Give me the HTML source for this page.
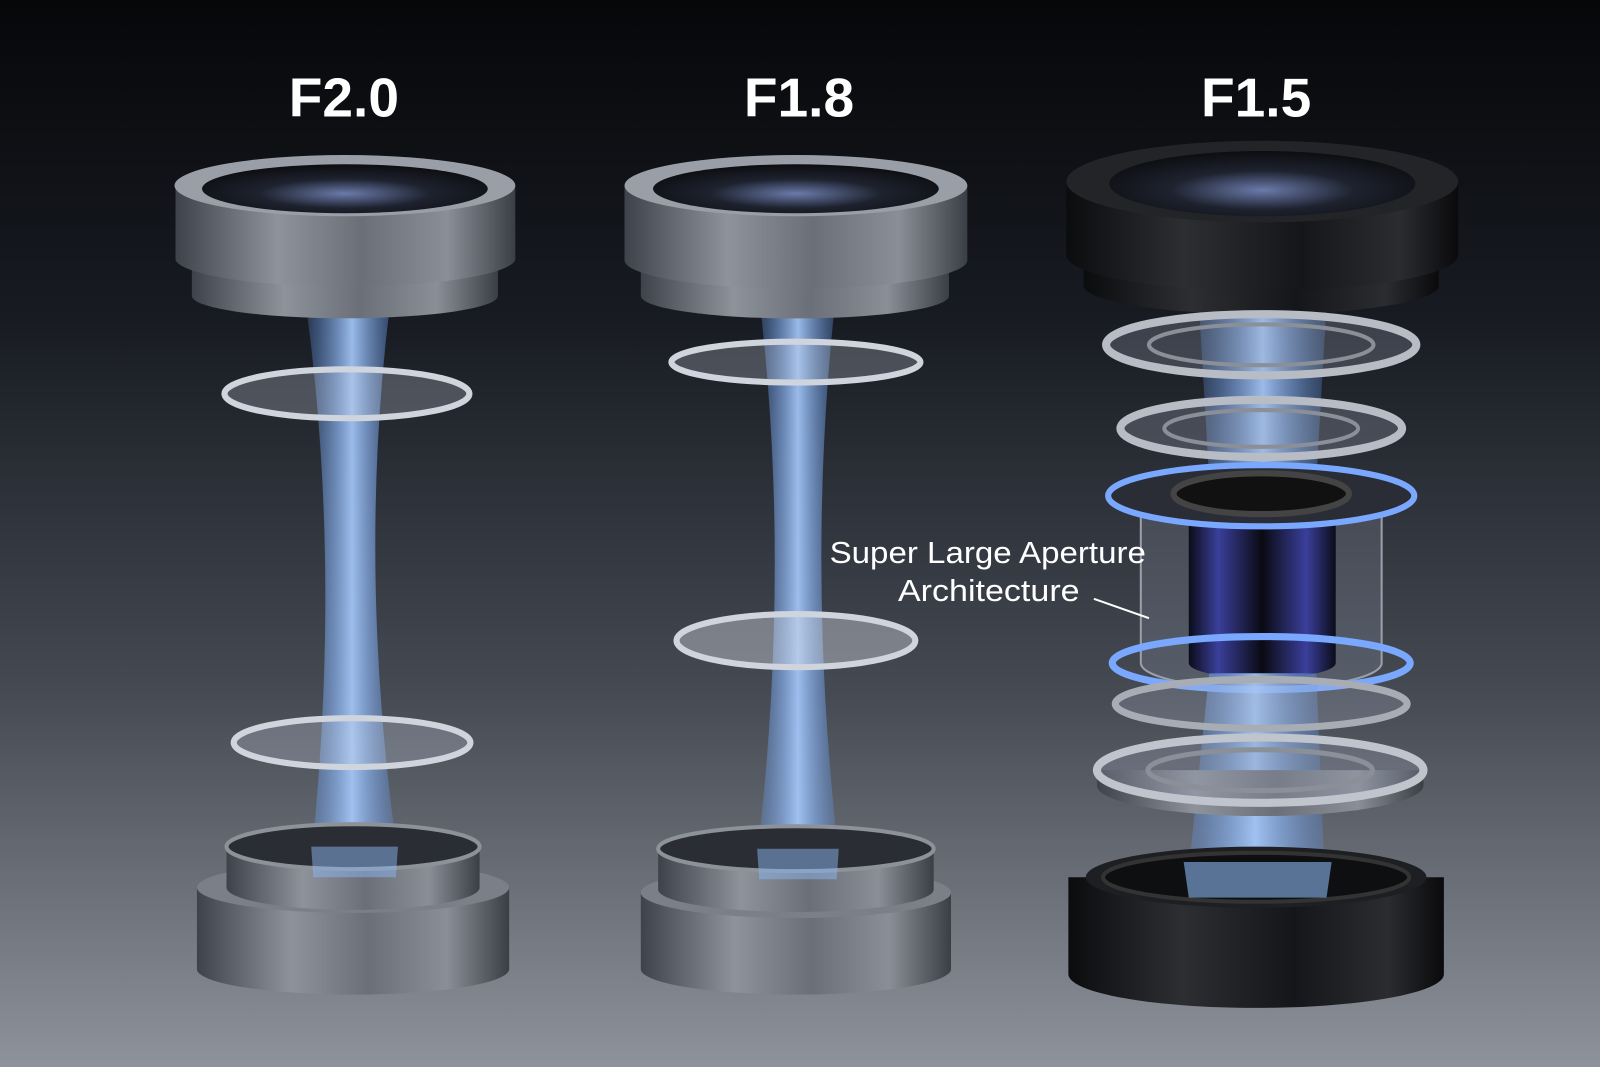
<!DOCTYPE html>
<html><head><meta charset="utf-8"><style>
html,body{margin:0;padding:0;width:1600px;height:1067px;overflow:hidden;background:#111}
svg{display:block}
</style></head><body>
<svg width="1600" height="1067" viewBox="0 0 1568 1046" preserveAspectRatio="none" xmlns="http://www.w3.org/2000/svg">
<defs>
<linearGradient id="bg" x1="0" y1="0" x2="0" y2="1">
<stop offset="0" stop-color="#060709"/><stop offset="0.3" stop-color="#181b22"/><stop offset="0.65" stop-color="#454a53"/><stop offset="1" stop-color="#8e939b"/></linearGradient>
<linearGradient id="metal" x1="0" y1="0" x2="1" y2="0">
<stop offset="0" stop-color="#3e424a"/><stop offset="0.3" stop-color="#8e939b"/><stop offset="0.55" stop-color="#6a6f78"/><stop offset="0.8" stop-color="#8a8f97"/><stop offset="1" stop-color="#3a3e45"/></linearGradient>
<linearGradient id="black" x1="0" y1="0" x2="1" y2="0">
<stop offset="0" stop-color="#0b0c0e"/><stop offset="0.3" stop-color="#2c2e32"/><stop offset="0.6" stop-color="#151619"/><stop offset="0.85" stop-color="#2a2c30"/><stop offset="1" stop-color="#0a0a0c"/></linearGradient>
<radialGradient id="glass" cx="0.5" cy="0.6" r="0.6">
<stop offset="0" stop-color="#6a7aaa"/><stop offset="0.5" stop-color="#1e222e"/><stop offset="1" stop-color="#0c0d10"/></radialGradient>
<linearGradient id="beam" x1="0" y1="0" x2="1" y2="0">
<stop offset="0" stop-color="#5a8ee0" stop-opacity="0.25"/><stop offset="0.5" stop-color="#a8ccff" stop-opacity="0.9"/><stop offset="1" stop-color="#5a8ee0" stop-opacity="0.25"/></linearGradient>
<linearGradient id="tube" x1="0" y1="0" x2="1" y2="0">
<stop offset="0" stop-color="#0b0c18"/><stop offset="0.2" stop-color="#3a3f9a"/><stop offset="0.5" stop-color="#0a0a12"/><stop offset="0.8" stop-color="#3a3f9a"/><stop offset="1" stop-color="#0b0c18"/></linearGradient>
</defs>
<rect width="1568" height="1046" fill="url(#bg)"/>
<g font-family="Liberation Sans, sans-serif" font-weight="bold" font-size="54" fill="#fff" text-anchor="middle">
<text x="337" y="114">F2.0</text><text x="783" y="114">F1.8</text><text x="1231" y="114">F1.5</text></g>

<!-- Lens 1 -->
<path d="M300 300 Q335 560 305 840 L390 840 Q350 560 382 300 Z" fill="url(#beam)"/>
<path d="M188 265 L188 290 A150 22 0 0 0 488 290 L488 265 Z" fill="url(#metal)"/>
<path d="M172 182 L172 255 A167 28 0 0 0 505 255 L505 182 Z" fill="url(#metal)"/>
<ellipse cx="338" cy="182" rx="167" ry="30" fill="#9a9fa7"/>
<ellipse cx="338" cy="185" rx="140" ry="24" fill="url(#glass)"/>
<ellipse cx="340" cy="386" rx="120" ry="24" fill="rgba(210,218,235,0.25)" stroke="#d0d4dc" stroke-width="6"/>
<ellipse cx="345" cy="728" rx="116" ry="24" fill="rgba(210,218,235,0.25)" stroke="#d0d4dc" stroke-width="6"/>
<path d="M193 870 L193 950 A153 25 0 0 0 499 950 L499 870 Z" fill="url(#metal)"/>
<ellipse cx="346" cy="870" rx="153" ry="25" fill="#7a7f88"/>
<path d="M222 830 L222 870 A124 22 0 0 0 470 870 L470 830 Z" fill="url(#metal)"/>
<ellipse cx="346" cy="830" rx="124" ry="22" fill="#2a2d33" stroke="#8d9299" stroke-width="4"/>
<path d="M305 830 L390 830 L388 860 L307 860Z" fill="#8cb6f0" opacity="0.5"/>

<!-- Lens 2 -->
<path d="M745 300 Q775 560 742 840 L822 840 Q790 560 818 300 Z" fill="url(#beam)"/>
<path d="M628 265 L628 290 A150 22 0 0 0 930 290 L930 265 Z" fill="url(#metal)"/>
<path d="M612 182 L612 255 A168 28 0 0 0 948 255 L948 182 Z" fill="url(#metal)"/>
<ellipse cx="780" cy="182" rx="168" ry="30" fill="#9a9fa7"/>
<ellipse cx="780" cy="185" rx="140" ry="24" fill="url(#glass)"/>
<ellipse cx="780" cy="355" rx="122" ry="20" fill="rgba(210,218,235,0.25)" stroke="#d0d4dc" stroke-width="6"/>
<ellipse cx="780" cy="628" rx="117" ry="26" fill="rgba(215,220,230,0.4)" stroke="#d0d4dc" stroke-width="6"/>
<path d="M628 875 L628 950 A152 25 0 0 0 932 950 L932 875 Z" fill="url(#metal)"/>
<ellipse cx="780" cy="875" rx="152" ry="25" fill="#7a7f88"/>
<path d="M645 832 L645 872 A135 22 0 0 0 915 872 L915 832 Z" fill="url(#metal)"/>
<ellipse cx="780" cy="832" rx="135" ry="22" fill="#2a2d33" stroke="#8d9299" stroke-width="4"/>
<path d="M742 832 L822 832 L820 862 L744 862Z" fill="#8cb6f0" opacity="0.5"/>

<!-- Lens 3 -->
<path d="M1175 300 L1300 300 L1290 470 L1185 470 Z" fill="url(#beam)"/>
<path d="M1062 260 L1062 280 A174 28 0 0 0 1410 280 L1410 260 Z" fill="url(#black)"/>
<path d="M1045 178 L1045 250 A192 35 0 0 0 1429 250 L1429 178 Z" fill="url(#black)"/>
<ellipse cx="1237" cy="178" rx="192" ry="40" fill="#222428"/>
<ellipse cx="1237" cy="180" rx="150" ry="32" fill="url(#glass)"/>
<ellipse cx="1236" cy="338" rx="152" ry="30" fill="rgba(170,180,200,0.25)" stroke="#b8bcc4" stroke-width="8"/>
<ellipse cx="1236" cy="338" rx="110" ry="20" fill="none" stroke="#8a8f98" stroke-width="4"/>
<ellipse cx="1236" cy="420" rx="138" ry="28" fill="rgba(170,180,200,0.25)" stroke="#b8bcc4" stroke-width="8"/>
<ellipse cx="1236" cy="420" rx="95" ry="18" fill="none" stroke="#8a8f98" stroke-width="4"/>
<path d="M1118 490 L1118 650 A118 25 0 0 0 1354 650 L1354 490 Z" fill="rgba(180,190,210,0.18)" stroke="#9aa0aa" stroke-width="2"/>
<path d="M1165 500 L1165 650 A72 15 0 0 0 1309 650 L1309 500 Z" fill="url(#tube)"/>
<ellipse cx="1236" cy="486" rx="150" ry="30" fill="#2a2d35" stroke="#7aa8ff" stroke-width="6"/>
<ellipse cx="1236" cy="484" rx="86" ry="20" fill="#111" stroke="#444" stroke-width="6"/>
<ellipse cx="1236" cy="650" rx="146" ry="26" fill="none" stroke="#7aa8ff" stroke-width="7"/>
<path d="M1185 660 L1290 660 L1300 900 L1160 900Z" fill="url(#beam)"/>
<ellipse cx="1236" cy="690" rx="143" ry="24" fill="rgba(170,180,200,0.25)" stroke="#a8acb4" stroke-width="7"/>
<path d="M1075 755 L1075 770 A160 30 0 0 0 1395 770 L1395 755 Z" fill="url(#metal)"/>
<ellipse cx="1235" cy="755" rx="160" ry="32" fill="rgba(150,160,180,0.3)" stroke="#c0c4cc" stroke-width="8"/>
<ellipse cx="1235" cy="755" rx="110" ry="20" fill="none" stroke="#8a8f98" stroke-width="5"/>
<path d="M1047 860 L1047 955 A167 30 0 0 0 1415 955 L1415 860 Z" fill="url(#black)"/>
<ellipse cx="1231" cy="860" rx="167" ry="30" fill="#1d1f22"/>
<ellipse cx="1231" cy="860" rx="150" ry="24" fill="#0e0f11" stroke="#333" stroke-width="4"/>
<path d="M1160 845 L1305 845 L1300 880 L1165 880Z" fill="#8cb6f0" opacity="0.6"/>

<g font-family="Liberation Sans, sans-serif" font-size="30" fill="#fff">
<text x="813" y="552" textLength="310" lengthAdjust="spacingAndGlyphs">Super Large Aperture</text>
<text x="880" y="589" textLength="178" lengthAdjust="spacingAndGlyphs">Architecture</text></g>
<line x1="1072" y1="587" x2="1126" y2="606" stroke="#fff" stroke-width="2"/>
</svg>
</body></html>
